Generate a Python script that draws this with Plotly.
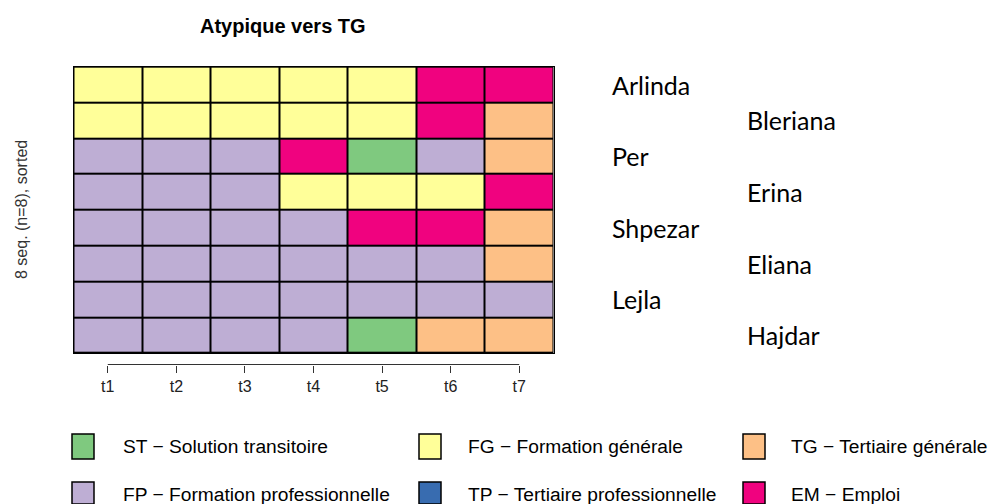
import plotly.graph_objects as go

# sequence data (Atypique vers TG)
times = ['t1', 't2', 't3', 't4', 't5', 't6', 't7']
names = ['Arlinda', 'Bleriana', 'Per', 'Erina', 'Shpezar', 'Eliana', 'Lejla', 'Hajdar']
seq_arlinda = ['FG', 'FG', 'FG', 'FG', 'FG', 'EM', 'EM']
seq_bleriana = ['FG', 'FG', 'FG', 'FG', 'FG', 'EM', 'TG']
seq_per = ['FP', 'FP', 'FP', 'EM', 'ST', 'FP', 'TG']
seq_erina = ['FP', 'FP', 'FP', 'FG', 'FG', 'FG', 'EM']
seq_shpezar = ['FP', 'FP', 'FP', 'FP', 'EM', 'EM', 'TG']
seq_eliana = ['FP', 'FP', 'FP', 'FP', 'FP', 'FP', 'TG']
seq_lejla = ['FP', 'FP', 'FP', 'FP', 'FP', 'FP', 'FP']
seq_hajdar = ['FP', 'FP', 'FP', 'FP', 'ST', 'TG', 'TG']
sequences = [seq_arlinda, seq_bleriana, seq_per, seq_erina,
             seq_shpezar, seq_eliana, seq_lejla, seq_hajdar]

states = ['ST', 'FP', 'FG', 'TP', 'TG', 'EM']
state_labels = ['ST \u2212 Solution transitoire', 'FP \u2212 Formation professionnelle',
                'FG \u2212 Formation générale', 'TP \u2212 Tertiaire professionnelle',
                'TG \u2212 Tertiaire générale', 'EM \u2212 Emploi']
state_colors = ['#7FC97F', '#BEAED4', '#FFFF99', '#386CB0', '#FDC086', '#F0027F']

# body margin is removed in the page (see post_script), so figure = window
W, H = 992, 504


def px(x):
    return x / W


def py(y):
    return 1 - y / H


# discrete colour scale
n = len(states)
cscale = []
for i, c in enumerate(state_colors):
    cscale.append([i / n, c])
    cscale.append([(i + 1) / n, c])

z = [[states.index(s) for s in row] for row in sequences]

fig = go.Figure()
fig.add_trace(go.Heatmap(
    x=times, y=names, z=z, zmin=-0.5, zmax=n - 0.5,
    colorscale=cscale, showscale=False, xgap=2, ygap=2,
    text=sequences, hovertemplate='%{y} %{x}: %{text}<extra></extra>'))
# invisible trace so the lower tick axis gets drawn
fig.add_trace(go.Scatter(x=times, y=[names[0]] * len(times), xaxis='x2', yaxis='y',
                         mode='markers', marker=dict(opacity=0), hoverinfo='skip',
                         showlegend=False))

axis_y = 364.5

fig.update_layout(
    width=W, height=H,
    margin=dict(l=0, r=0, t=0, b=0),
    paper_bgcolor='white', plot_bgcolor='black',
    showlegend=False,
    font=dict(family='Liberation Sans, Arial, sans-serif', color='black'),
    xaxis=dict(domain=[px(73.5), px(553.5)], showticklabels=False, ticks='', showgrid=False,
               zeroline=False, showline=True, mirror=True, linecolor='black', linewidth=1,
               fixedrange=True),
    xaxis2=dict(overlaying='x', matches='x', anchor='free', position=py(axis_y),
                showline=False, showgrid=False, zeroline=False, ticks='outside',
                ticklen=7, tickwidth=1, tickcolor='#333333',
                tickfont=dict(size=16, color='#222222'), tickvals=times, fixedrange=True),
    yaxis=dict(domain=[py(353), py(66.5)], autorange='reversed', showticklabels=False,
               ticks='', showgrid=False, zeroline=False, showline=True, mirror=True,
               linecolor='black', linewidth=1, fixedrange=True),
)

# lower axis line from first to last tick
fig.add_shape(type='line', xref='x', yref='paper', x0=0, x1=len(times) - 1,
              y0=py(axis_y), y1=py(axis_y), line=dict(color='#333333', width=1))

# title and y label
fig.add_annotation(text='<b>Atypique vers TG</b>', xref='paper', yref='paper',
                   x=px(283), y=py(26), showarrow=False, xanchor='center', yanchor='middle',
                   font=dict(size=20, color='black'))
fig.add_annotation(text='8 seq. (n=8), sorted', xref='paper', yref='paper',
                   x=px(21), y=py(210), showarrow=False, textangle=-90,
                   xanchor='center', yanchor='middle', font=dict(size=16, color='#333333'))

# names on the right, staggered in two columns
for i, nm in enumerate(names):
    fig.add_annotation(text=nm, xref='paper', yref='y', x=px(610 if i % 2 == 0 else 745),
                       y=nm, showarrow=False, xanchor='left', yanchor='middle',
                       font=dict(family='Lato, Noto Sans, sans-serif', size=25, color='black'))

# legend, 3 columns x 2 rows (filled by column)
col_sq = [72, 419, 743]
col_tx = [121, 466, 789]
row_y = [434, 482]
for i, (lab, col) in enumerate(zip(state_labels, state_colors)):
    c, r = i // 2, i % 2
    fig.add_shape(type='rect', xref='paper', yref='paper',
                  x0=px(col_sq[c]), x1=px(col_sq[c] + 22),
                  y0=py(row_y[r]), y1=py(min(row_y[r] + 25, H)),
                  fillcolor=col, line=dict(color='black', width=1.5))
    fig.add_annotation(text=lab, xref='paper', yref='paper', x=px(col_tx[c]),
                       y=py(row_y[r] + 12), showarrow=False, xanchor='left',
                       yanchor='middle', font=dict(size=19.2, color='black'))

fig.write_html('out.html', config={'displayModeBar': False},
               post_script="document.body.style.margin='0';document.body.style.overflow='hidden';")
